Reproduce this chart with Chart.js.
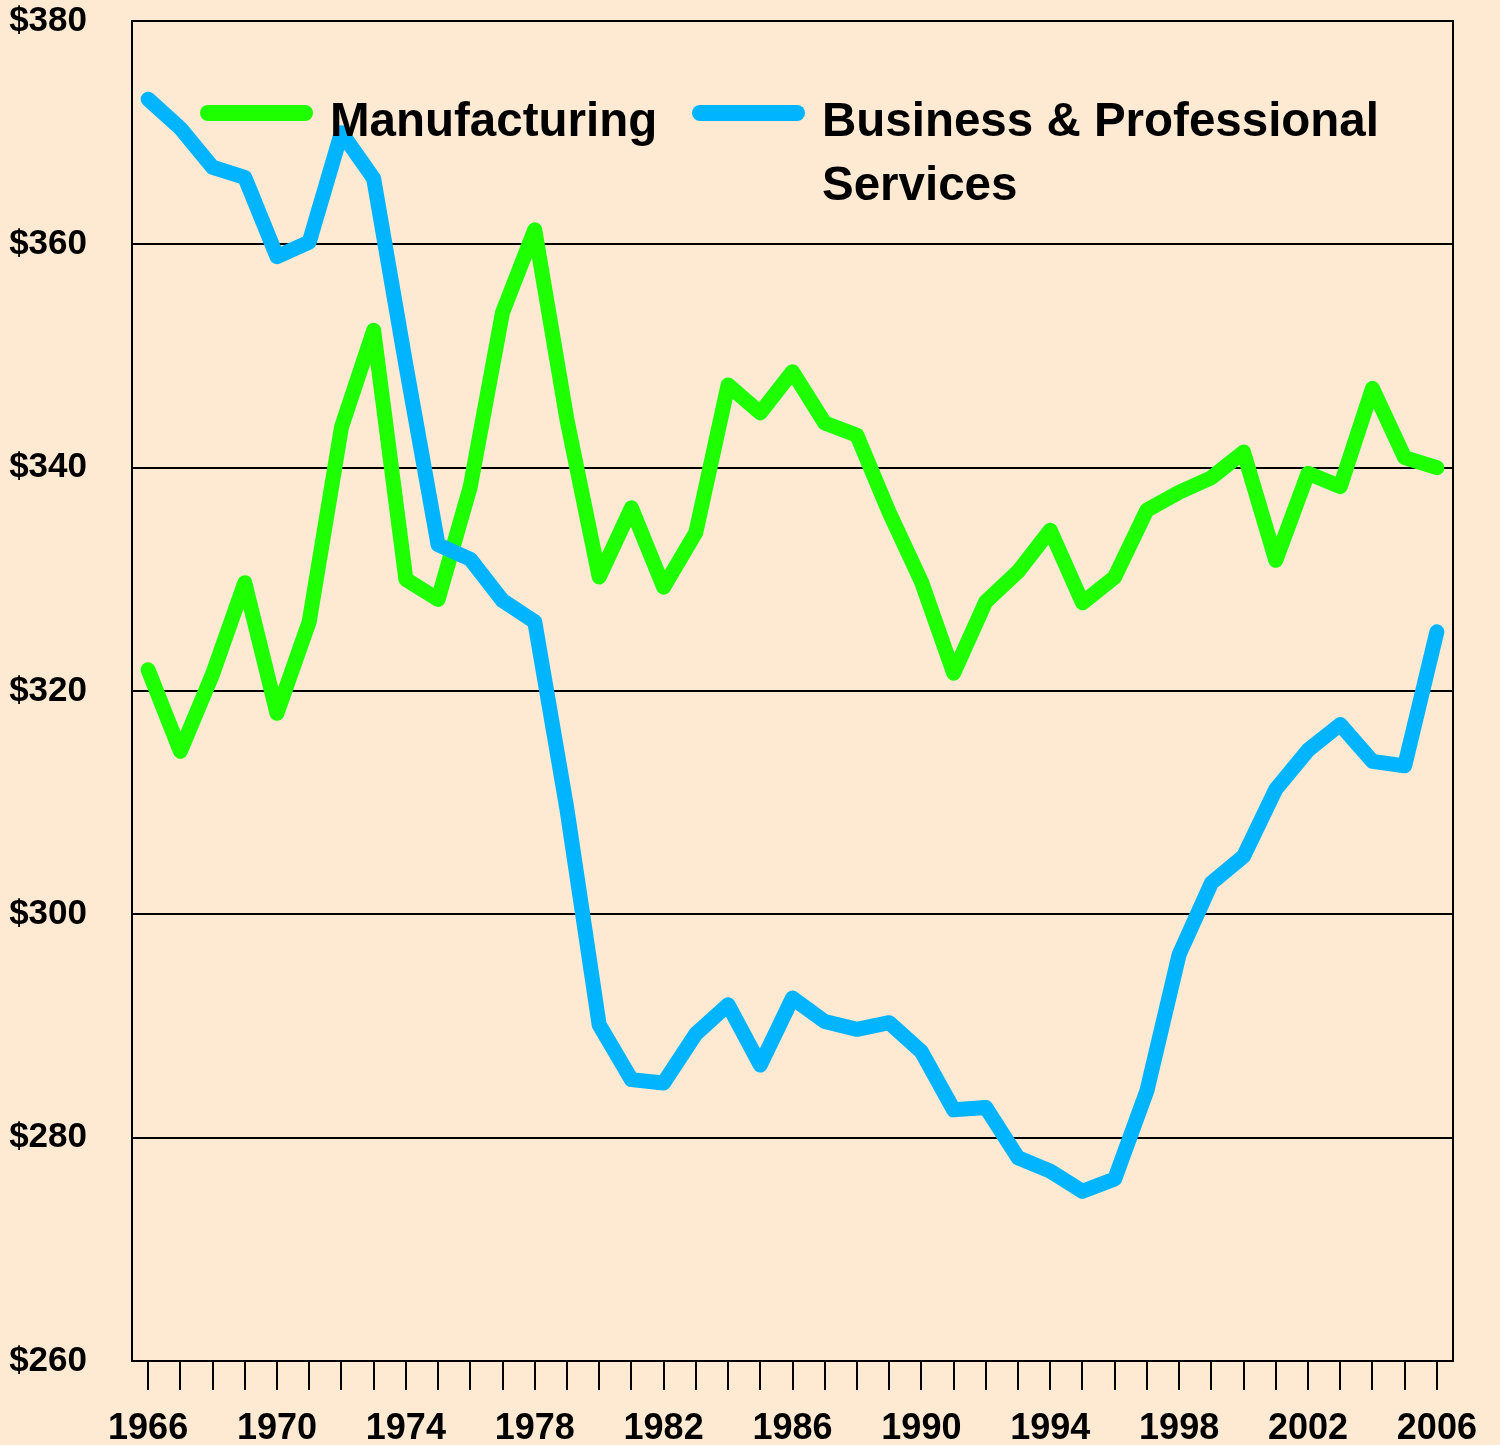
<!DOCTYPE html>
<html>
<head>
<meta charset="utf-8">
<title>Manufacturing vs Business & Professional Services</title>
<script src="https://cdn.jsdelivr.net/npm/chart.js@4.4.1/dist/chart.umd.min.js"></script>
<style>
  html, body { margin: 0; padding: 0; background: #FEEAD2; }
  #wrap { width: 1500px; height: 1445px; }
</style>
</head>
<body>
<div id="wrap"><canvas id="payChart"></canvas></div>
<script>
// categories (one per year)
const years = ['1966', '1967', '1968', '1969', '1970', '1971', '1972', '1973', '1974', '1975',
               '1976', '1977', '1978', '1979', '1980', '1981', '1982', '1983', '1984', '1985',
               '1986', '1987', '1988', '1989', '1990', '1991', '1992', '1993', '1994', '1995',
               '1996', '1997', '1998', '1999', '2000', '2001', '2002', '2003', '2004', '2005', '2006'];

// only every 4th year gets a label under its tick
const labelYears = ['1966', '1970', '1974', '1978', '1982', '1986', '1990', '1994', '1998', '2002', '2006'];

// series values (dollars)
const manufacturing = [321.9, 314.6, 321.5, 329.7, 318.0, 326.2, 343.6, 352.3, 330.0, 328.2,
                       338.3, 353.9, 361.3, 344.3, 330.2, 336.4, 329.3, 334.2, 347.4, 344.9,
                       348.6, 344.0, 342.9, 336.0, 329.8, 321.6, 328.0, 330.7, 334.4, 327.9,
                       330.2, 336.2, 337.8, 339.1, 341.4, 331.7, 339.5, 338.3, 347.1, 340.9, 340.0];

const businessServices = [373.0, 370.4, 366.9, 366.0, 358.9, 360.2, 370.0, 365.9, 349.2, 333.1,
                          331.8, 328.1, 326.2, 309.4, 290.1, 285.2, 284.9, 289.3, 291.9, 286.5,
                          292.5, 290.4, 289.7, 290.3, 287.7, 282.5, 282.7, 278.2, 277.0, 275.2,
                          276.3, 284.2, 296.4, 302.8, 305.2, 311.2, 314.7, 317.0, 313.7, 313.3, 325.3];

// y axis
const yMin = 260;
const yMax = 380;
const yStep = 20;

const seriesNames = ['Manufacturing', 'Business & Professional Services'];
const legendLines = [['Manufacturing'], ['Business & Professional', 'Services']];
const seriesColors = ['#1EFF00', '#00B4FF'];

const fontFamily = '"Liberation Sans", Arial, Helvetica, sans-serif';
const bgColor = '#FEEAD2';

// paints the peach background and the box round the plot
const framePlugin = {
    id: 'frame',
    beforeDraw(chart) {
        const ctx = chart.ctx;
        ctx.save();
        ctx.fillStyle = bgColor;
        ctx.fillRect(0, 0, chart.width, chart.height);
        ctx.restore();
    },
    beforeDatasetsDraw(chart) {
        const a = chart.chartArea;
        const ctx = chart.ctx;
        ctx.save();
        ctx.strokeStyle = '#000';
        ctx.lineWidth = 2;
        ctx.strokeRect(a.left, a.top, a.right - a.left, a.bottom - a.top);
        ctx.restore();
    }
};

// legend drawn inside the plot, second label wraps onto two lines
const insideLegend = {
    id: 'insideLegend',
    afterDraw(chart) {
        const ctx = chart.ctx;
        const a = chart.chartArea;
        const itemX = [76, 568];     // where each sample line starts, from plot left
        const sampleLen = 97;
        const lineY = a.top + 92;
        const baseY = a.top + 115;
        ctx.save();
        ctx.font = 'bold 47.5px ' + fontFamily;
        ctx.textBaseline = 'alphabetic';
        ctx.fillStyle = '#000';
        chart.data.datasets.forEach((ds, i) => {
            const x0 = a.left + itemX[i];
            ctx.strokeStyle = ds.borderColor;
            ctx.lineWidth = 16;
            ctx.lineCap = 'round';
            ctx.beginPath();
            ctx.moveTo(x0, lineY);
            ctx.lineTo(x0 + sampleLen, lineY);
            ctx.stroke();
            legendLines[i].forEach((txt, k) => {
                ctx.fillText(txt, x0 + sampleLen + 25, baseY + k * 64);
            });
        });
        ctx.restore();
    }
};

const payChart = new Chart(document.getElementById('payChart'), {
    type: 'line',
    data: {
        labels: years,
        datasets: [
            {
                label: seriesNames[0],
                data: manufacturing,
                borderColor: seriesColors[0],
                backgroundColor: seriesColors[0],
                borderWidth: 15,
                pointRadius: 0,
                tension: 0,
                borderCapStyle: 'round',
                borderJoinStyle: 'round',
                order: 1
            },
            {
                label: seriesNames[1],
                data: businessServices,
                borderColor: seriesColors[1],
                backgroundColor: seriesColors[1],
                borderWidth: 15,
                pointRadius: 0,
                tension: 0,
                borderCapStyle: 'round',
                borderJoinStyle: 'round',
                order: 0
            }
        ]
    },
    options: {
        responsive: true,
        maintainAspectRatio: false,
        animation: false,
        layout: {
            padding: { left: 9, right: 47, top: 21, bottom: 0 }
        },
        plugins: {
            legend: { display: false },
            tooltip: { enabled: false }
        },
        scales: {
            x: {
                type: 'category',
                offset: true,
                grid: {
                    display: true,
                    drawOnChartArea: false,
                    drawTicks: true,
                    tickLength: 29,
                    offset: false,
                    color: '#000',
                    lineWidth: 2
                },
                border: { display: true, color: '#000', width: 2 },
                ticks: {
                    autoSkip: false,
                    maxRotation: 0,
                    padding: 17,
                    color: '#000',
                    font: { family: fontFamily, size: 36, weight: 'bold' },
                    callback: function (value, index) {
                        const yr = years[index];
                        return labelYears.includes(yr) ? yr : '';
                    }
                },
                afterFit: (scale) => { scale.height = 84; }
            },
            y: {
                min: yMin,
                max: yMax,
                grid: {
                    color: '#000',
                    lineWidth: 2,
                    drawTicks: false
                },
                border: { display: true, color: '#000', width: 2 },
                ticks: {
                    stepSize: yStep,
                    padding: 45,
                    color: '#000',
                    font: { family: fontFamily, size: 35, weight: 'bold' },
                    callback: (v) => '$' + v
                },
                afterFit: (scale) => {
                    scale.width = 123;
                    scale.paddingTop = 0;
                    scale.paddingBottom = 0;
                }
            }
        }
    },
    plugins: [framePlugin, insideLegend]
});
</script>
</body>
</html>
